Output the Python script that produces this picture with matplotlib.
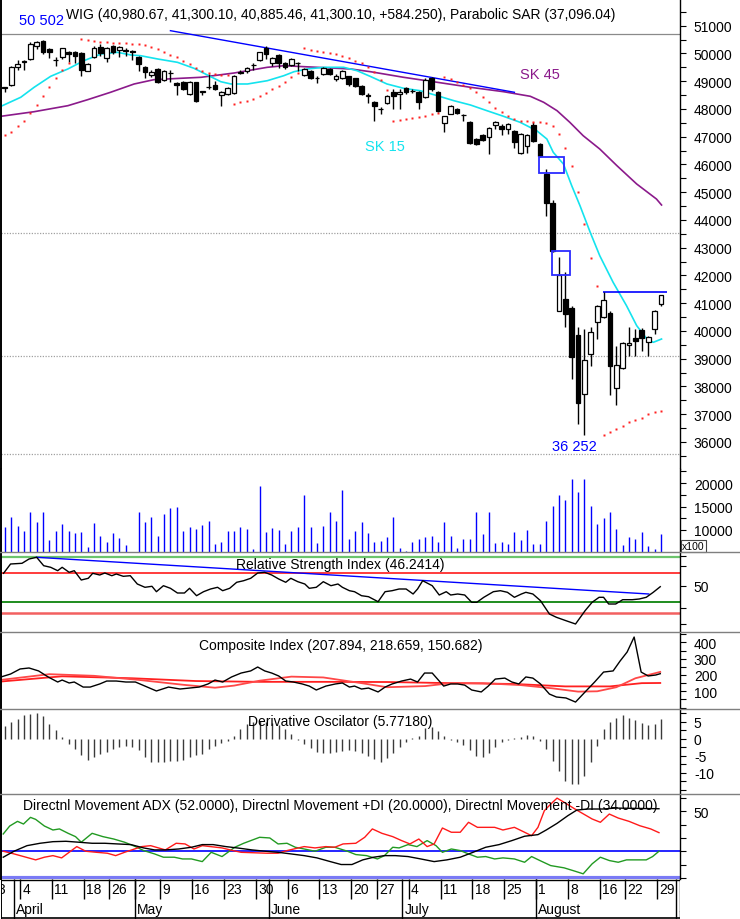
import matplotlib
matplotlib.use("Agg")
import matplotlib.pyplot as plt
from matplotlib.lines import Line2D
from matplotlib.patches import Rectangle
from matplotlib.ticker import FixedLocator, MultipleLocator
import numpy as np

plt.rcParams.update({
    "font.family": ["Liberation Sans", "DejaVu Sans"],
    "font.size": 10,
    "axes.unicode_minus": False,
})

# ---- data ----
opens = [48790, 48863, 49500, 49700, 49800, 50280, 50460, 50160, 49770, 49860,
         50040, 50040, 50015, 49380, 49860, 50240, 49840, 50280, 50130, 50090,
         50090, 49860, 49500, 49220, 49440, 49040, 49300, 48940, 48960, 48538,
         48960, 48610, 48790, 48860, 48502, 48538, 48574, 49310, 49378, 49575,
         49775, 50185, 49655, 49944, 49655, 49583, 49650, 49223, 49378, 49100,
         49260, 49440, 49080, 49104, 49176, 49104, 48840, 48480, 48261, 47990,
         48214, 48600, 48538, 48743, 48640, 48600, 48420, 49104, 48600, 47493,
         47818, 47998, 47780, 47518, 46916, 47060, 46977, 47420, 47400, 47277,
         47216, 46412, 46653, 47420, 46736, 45655, 44610, 40728, 41150, 40815,
         39853, 37726, 39168, 40310, 40490, 40646, 37932, 38653, 39492, 39733,
         40044, 39611, 40069, 40980.67]
highs = [48800, 49560, 49775, 49775, 50400, 50460, 50502, 50200, 49880, 50200,
         50100, 50080, 50040, 49640, 50260, 50340, 50220, 50320, 50260, 50200,
         50120, 49900, 49540, 49400, 49460, 49400, 49400, 48960, 48990, 49000,
         48980, 48660, 49259, 49000, 48640, 48780, 49230, 49400, 49500, 49640,
         50060, 50270, 49860, 49980, 49700, 49840, 49700, 49460, 49400, 49180,
         49500, 49460, 49260, 49420, 49200, 49120, 48860, 48560, 48300, 48080,
         48500, 48720, 48720, 48800, 48720, 48640, 49100, 49150, 48640, 47760,
         48150, 48030, 47830, 47560, 46950, 47100, 47340, 47560, 47440, 47480,
         47240, 47120, 47100, 47530, 46790, 45835, 44700, 42664, 42123, 40900,
         40141, 40069, 40141, 40950, 41391, 40700, 39445, 39600, 40141, 40069,
         40100, 39800, 40760, 41300.10]
lows = [48610, 48830, 49414, 49400, 49760, 50160, 49980, 49840, 49560, 49800,
        49680, 49650, 49200, 49350, 49820, 49900, 49700, 49980, 49860, 49900,
        49760, 49380, 49100, 49140, 48940, 49000, 48960, 48520, 48700, 48500,
        48260, 48500, 48720, 48690, 48100, 48500, 48540, 49260, 49300, 49400,
        49740, 49800, 49560, 49465, 49430, 49560, 49378, 49200, 49080, 48950,
        49240, 49240, 49020, 49080, 48840, 48800, 48500, 48200, 47576, 47817,
        48180, 48000, 48000, 48540, 48560, 47990, 48400, 48650, 47900, 47169,
        47800, 47820, 47560, 46740, 46700, 46850, 46376, 47280, 47050, 47100,
        46582, 46380, 46400, 46820, 46280, 44141, 42850, 40700, 40141, 38267,
        36645, 36252, 38747, 39708, 40450, 37690, 37330, 38620, 39107, 39107,
        39287, 39107, 39889, 40885.46]
closes = [48770, 49522, 49620, 49720, 50340, 50400, 50040, 50040, 49750, 50185,
          49980, 49900, 49414, 49620, 50185, 50000, 50185, 50040, 50220, 50110,
          50040, 49620, 49320, 49340, 48960, 49380, 49280, 48860, 48718, 48982,
          48297, 48630, 48780, 48720, 48620, 48743, 49198, 49330, 49465, 49590,
          50040, 49980, 49825, 49655, 49500, 49800, 49660, 49440, 49104, 49110,
          49465, 49260, 49176, 49378, 48900, 48840, 48538, 48500, 48095, 48000,
          48478, 48478, 48600, 48600, 48660, 48239, 49053, 48718, 47935, 47734,
          48117, 47853, 47790, 46772, 46736, 46880, 47302, 47518, 47277, 47457,
          46800, 47097, 47060, 46855, 46315, 44610, 42890, 42015, 40609, 39060,
          37402, 38962, 39950, 40887, 41125, 38725, 38771, 39564, 39564, 39647,
          39733, 39770, 40728, 41300.10]

sar = [47060, 47180, 47396, 47576, 47854, 48142, 48455, 48780, 49104, 49414,
       49645, np.nan, 50520, 50480, 50440, 50420, 50400, 50376, 50370, 50365,
       50350, 50330, 50300, 50220, 50160, 50063, 49960, 49860, 49738, 49620,
       49480, 49380, 49300, 49270, 49240, 49220, 48178, 48261, 48297, 48358,
       48455, 48574, 48718, 48838, 48982, 49140, 49280, 50185, 50135, 50099,
       50063, 50015, 49980, 49897, 49825, 49738, 49655, 49500, 49320, 49040,
       48700, 47576, 47600, 47625, 47661, 47698, 47758, 47817, 47870, 49150,
       49090, 48980, 48870, 48744, 48600, 48420, 48250, 48050, 47900, 47760,
       47650, 47560, 47550, 47545, 47530, 47480, 47380, 47097, 46581, 45932,
       45017, 43853, 42616, 41629, 36252, 36345, 36466, 36586, 36706, 36789,
       36875, 36994, 37066, 37096.04]

sma15_x = [-0.6, 2.5, 4.6, 7.2, 9.9, 12.4, 15.1, 17.7, 19.8, 21.3,
           24.0, 27.1, 29.7, 31.8, 33.9, 35.5, 38.1, 41.2, 43.8, 45.4,
           47.5, 50.1, 53.2, 55.3, 57.4, 60.0, 62.6, 65.2, 67.9, 70.5,
           73.1, 75.7, 78.3, 80.9, 83.5, 85.1, 86.1, 87.7, 89.0, 90.3,
           91.9, 93.4, 95.5, 97.6, 99.2, 100.8, 101.8, 103.1]
sma15_y = [48095, 48420, 48780, 49176, 49440, 49738, 49980, 50040, 49944, 49919,
           49800, 49680, 49464, 49223, 48982, 48899, 48899, 49017, 49198, 49342,
           49440, 49500, 49500, 49378, 49170, 48899, 48744, 48657, 48477, 48297,
           48142, 47936, 47734, 47518, 47216, 46916, 46437, 46015, 45233, 44512,
           43554, 42711, 41751, 40910, 40190, 39708, 39588, 39708]

sma45_x = [-0.6, 4.6, 9.9, 13.0, 16.6, 20.3, 23.4, 27.6, 30.8, 36.0,
           41.2, 43.8, 49.0, 54.3, 57.4, 62.6, 67.9, 73.1, 78.3, 82.5,
           84.6, 86.7, 88.7, 90.8, 93.4, 96.1, 99.2, 102.3, 103.1]
sma45_y = [47735, 47900, 48117, 48333, 48600, 48899, 49054, 49104, 49140, 49295,
           49500, 49558, 49500, 49440, 49342, 49140, 48960, 48780, 48621, 48455,
           48239, 47936, 47518, 47035, 46556, 45954, 45295, 44754, 44538]

trend_x = [26.0, 80.0]
trend_y = [50820, 48600]
gap_boxes = [(83.9, 87.8, 45690, 46280), (85.9, 88.7, 42026, 42869)]
resist_x = [93.9, 103.9]
resist_y = 41391
fib_levels = [43530, 39110, 35565]
top_level = 50700

volume = [10575, 12700, 10790, 9850, 13770, 11770, 13770, 7870, 9850, 11280,
          9850, 9360, 9640, 6440, 11490, 8790, 7380, 9360, 8300, 6800,
          5000, 13770, 11770, 12700, 8790, 13410, 14620, 14830, 9850, 10575,
          10210, 11070, 11980, 7020, 7380, 9850, 9850, 10575, 10210, 5950,
          19440, 9640, 10360, 10070, 7020, 9850, 10575, 17450, 10575, 7230,
          10790, 13770, 11980, 18580, 8080, 9850, 11770, 9360, 7510, 7720,
          8450, 12700, 6100, 5590, 7380, 8080, 8450, 8790, 7510, 11770,
          8790, 6100, 8080, 8080, 13770, 9150, 13770, 7230, 7380, 7020,
          9510, 7870, 10070, 7020, 7020, 11980, 15180, 17450, 16450, 20860,
          18160, 20860, 15180, 11280, 12490, 13900, 10210, 6800, 8450, 8080,
          9510, 6660, 5950, 9080]

rsi_x = [-0.2, 0.9, 2.7, 3.8, 5.0, 6.1, 7.2, 8.3, 9.0, 10.1,
         10.9, 12.0, 13.1, 13.8, 14.9, 15.7, 16.8, 17.5, 18.6, 19.7,
         20.8, 22.0, 23.1, 23.8, 24.9, 26.0, 27.1, 28.2, 29.0, 30.1,
         31.2, 32.3, 33.4, 34.2, 35.3, 36.4, 37.5, 38.6, 39.7, 40.8,
         41.9, 43.0, 44.1, 44.9, 46.0, 47.1, 47.8, 48.9, 50.0, 51.2,
         52.3, 53.0, 54.1, 54.9, 56.0, 57.1, 58.6, 59.7, 60.8, 61.9,
         63.0, 64.1, 64.8, 65.6, 67.1, 68.2, 69.3, 70.0, 71.1, 72.2,
         73.3, 74.1, 75.2, 76.7, 77.8, 78.9, 80.0, 81.1, 81.8, 82.9,
         84.1, 85.5, 86.6, 88.1, 89.6, 91.1, 92.2, 93.3, 94.0, 94.8,
         95.9, 97.0, 98.5, 99.6, 100.7, 101.8, 102.9]
rsi_y = [62.7, 72, 72.7, 77, 78.7, 70.3, 68.7, 65.3, 68.7, 63.7,
         65.3, 56, 57.7, 62.7, 61, 63, 60.3, 62, 59.7, 60.3,
         52, 48.7, 49.7, 44.3, 50.3, 47.7, 43, 43, 47.7, 40.3,
         44.3, 47, 48.7, 45.3, 47.7, 53.7, 55.3, 57.7, 63, 63.7,
         61, 57, 53.7, 57.7, 54.3, 52, 47.7, 48.7, 54.3, 50.3,
         52, 48.7, 45.3, 44.3, 40.3, 39.3, 34.3, 44.3, 45.3, 47,
         47, 42, 47, 55.3, 50.3, 41, 44.3, 41, 42, 41,
         33.7, 33.7, 38.7, 44.3, 45.3, 43.7, 38.7, 42, 43.7, 42,
         35.3, 22, 18.7, 15.3, 12, 25.3, 33.7, 38.7, 38.7, 32,
         32, 36.3, 36.3, 37, 38.7, 43.7, 49.3]
rsi_green = [79, 34]
rsi_red = [63, 23]
rsi_trend_x = [5.0, 101.1]
rsi_trend_y = [78.7, 42]

comp_x = [-0.6, 0.9, 2.4, 3.8, 5.3, 6.8, 8.3, 9.0, 10.1, 10.9,
          12.3, 13.4, 14.9, 16.0, 17.5, 19.0, 20.5, 22.0, 23.8, 25.7,
          27.5, 29.0, 30.5, 31.9, 33.0, 34.2, 35.6, 37.1, 38.6, 39.7,
          40.8, 41.9, 43.0, 44.1, 45.3, 46.7, 47.8, 48.9, 50.4, 51.9,
          53.0, 54.1, 54.9, 56.0, 57.1, 58.6, 59.7, 60.8, 62.3, 63.7,
          64.8, 65.9, 67.1, 68.2, 68.9, 70.0, 71.1, 72.2, 73.3, 74.8,
          75.9, 77.0, 78.5, 79.6, 80.7, 81.8, 82.9, 84.1, 85.5, 86.6,
          88.1, 89.6, 91.1, 92.6, 94.0, 95.5, 96.6, 97.7, 98.8, 99.9,
          101.0, 102.2, 102.9]
comp_y = [188, 206, 237, 243, 225, 188, 157, 169, 151, 157,
          126, 126, 145, 163, 163, 157, 157, 132, 102, 126,
          114, 120, 126, 145, 169, 157, 188, 212, 225, 249,
          225, 212, 194, 163, 157, 145, 132, 108, 132, 145,
          151, 126, 132, 114, 120, 96, 126, 145, 163, 175,
          157, 212, 212, 163, 132, 145, 145, 138, 108, 96,
          132, 175, 181, 157, 145, 188, 181, 145, 83, 65,
          59, 34, 96, 157, 218, 225, 286, 341, 433, 218,
          194, 200, 208]
comp_fast_x = [-0.6, 7, 14, 21, 28, 33, 36, 40, 45, 50, 56, 60, 66, 70, 75,
               81, 86, 90, 93, 96, 99, 102.9]
comp_fast_y = [170, 205, 195, 170, 140, 122, 135, 165, 190, 185, 150, 125, 132,
               150, 150, 138, 118, 98, 100, 125, 180, 219]
comp_slow_x = [-0.6, 9, 20, 30, 40, 50, 60, 70, 80, 88, 95, 100, 102.9]
comp_slow_y = [160, 192, 180, 163, 158, 158, 157, 150, 145, 130, 130, 150, 151]

deriv = [3.8, 4.9, 5.9, 6.9, 7.4, 7.6, 6.7, 4.4, 2.5, 0.5,
         -1.5, -2.9, -4.7, -6.1, -5.4, -4.4, -3.9, -2.9, -2.5, -2.2,
         -2.5, -3.4, -5.4, -6.7, -6.9, -6.7, -6.4, -6.4, -6.2, -5.4,
         -4.7, -4.4, -3.1, -2.2, -1.2, -0.5,
         1.0, 2.9, 4.4, 5.0, 5.2, 5.0, 4.8, 4.0, 3.0, 1.5,
         -0.3, -1.5, -2.8, -3.9, -4.0, -4.0, -3.7, -3.5, -3.4, -3.6,
         -4.0, -4.9, -5.9, -6.9, -5.5, -4.2, -2.5, -0.9, 0.3, 1.0,
         3.2, 3.5, 2.4, 0.9, -0.4, -1.0, -1.9, -3.4, -4.9, -5.2,
         -4.0, -2.4, -1.0, -0.3, 0.4, 0.6, 1.2, 0.9, -0.6, -2.9,
         -6.4, -9.4, -12.3, -13.3, -13.3, -10.8, -6.9, -2.2, 2.9, 5.0,
         6.3, 6.9, 6.3, 5.6, 4.8, 4.2, 4.4, 5.77]

pdi_x = [-0.25, 0.77, 1.99, 2.93, 4.03, 4.84, 6.21, 7.55, 8.57, 9.94,
         11.1, 12.0, 13.7, 15.4, 17.1, 18.8, 20.5, 21.8, 23.5, 24.9,
         26.6, 27.9, 29.3, 31.0, 32.4, 34.1, 36.1, 37.5, 40.0, 41.6,
         42.9, 44.3, 45.6, 47.0, 48.7, 50.4, 51.8, 53.8, 55.1, 56.8,
         58.5, 59.6, 60.9, 61.9, 63.3, 64.7, 66.3, 67.7, 68.7, 70.1,
         71.5, 72.8, 74.2, 75.5, 76.9, 78.2, 80.0, 81.6, 82.7, 84.0,
         85.7, 87.8, 89.5, 90.8, 92.2, 93.5, 94.9, 96.3, 97.6, 99.0,
         100.7, 101.7, 102.7]
pdi_y = [33, 39, 42.5, 40.5, 45.5, 44, 39, 36, 36.8, 33.5,
         31, 26.8, 33.5, 31, 29.2, 26.8, 23.5, 20.5, 18, 15.5,
         15.5, 14.2, 14.2, 12.2, 19.2, 16, 23, 26, 30.5, 30,
         25.5, 26, 23, 21.7, 20, 23, 23, 20, 17.5, 16.7,
         14.2, 16.7, 23, 22.5, 25, 23.5, 28, 24.2, 19.2, 21.7,
         20.5, 18, 15.5, 16, 14.2, 15, 14.2, 11.7, 16, 13,
         9.2, 7.5, 5, 3, 10.5, 15.5, 13, 11.7, 13.5, 13.5,
         13.5, 16, 20]
mdi_x = [-0.25, 1.44, 4.84, 6.21, 7.55, 8.92, 11.3, 12.7, 14.4, 16.1,
         17.4, 18.8, 21.5, 22.9, 25.2, 26.9, 28.3, 29.7, 31.0, 34.1,
         35.8, 37.1, 41.2, 42.9, 44.3, 47.0, 48.7, 50.4, 51.8, 53.1,
         55.1, 56.5, 57.7, 59.2, 60.9, 62.3, 63.6, 65.0, 66.3, 67.4,
         68.7, 70.1, 71.5, 72.8, 74.2, 75.5, 76.9, 78.2, 80.0, 81.3,
         82.7, 83.7, 84.7, 85.7, 86.7, 88.1, 89.5, 92.2, 93.5, 94.9,
         96.3, 98.0, 99.7, 101.4, 102.7]
mdi_y = [20, 18, 13.5, 15.5, 16.7, 15, 23.5, 20, 19.2, 18.5,
         16.7, 19.2, 23.5, 24.2, 21, 26, 25.5, 21.7, 24.2, 22.5,
         20.5, 19.2, 18.5, 18.5, 20.5, 23.5, 22.5, 23.5, 23, 25.5,
         26, 30.5, 36.8, 33.5, 31, 28, 25.5, 29.2, 23.5, 25.5,
         37.5, 34.3, 34.3, 41.8, 38, 38, 38, 36, 38, 35,
         31.7, 38, 50.5, 55.5, 60, 56, 51.8, 44.3, 41.8, 48,
         45, 42.5, 39.2, 36.8, 34]
adx_x = [-0.25, 1.44, 3.48, 5.52, 7.55, 9.59, 11.6, 13.7, 15.7, 17.7,
         19.8, 21.8, 23.5, 25.2, 27.3, 29.3, 31.0, 32.7, 34.7, 36.8,
         38.8, 40.9, 42.9, 44.9, 47.0, 49.0, 51.1, 52.8, 54.5, 56.2,
         57.9, 59.6, 61.3, 63.3, 65.3, 67.4, 69.4, 71.5, 73.5, 75.5,
         77.6, 79.6, 81.6, 83.7, 85.0, 86.7, 88.4, 89.8, 91.5, 93.9,
         95.9, 102.7]
adx_y = [15.5, 20, 24.2, 26, 27.2, 27.5, 26.8, 26, 26, 25.5,
         25, 22.5, 21, 21, 21.7, 23, 25, 25, 23.5, 22.3,
         21, 20, 19.2, 18, 16.7, 15, 12.2, 10, 10, 13.5,
         15.5, 16.7, 16.7, 16, 14.2, 12.2, 13.5, 15.5, 19.2, 23,
         25, 28, 31.3, 32.5, 36, 41, 46.8, 51, 51.8, 51.8,
         52.5, 52]
adx_ref = 20

week_days = [-2, 3, 8, 13, 17, 21, 25, 30, 35, 40, 45, 50, 55, 59, 64, 69, 74,
             79, 84, 89, 94, 98, 103]
week_labels = ["28", "4", "11", "18", "26", "2", "9", "16", "23", "30", "6", "13",
               "20", "27", "4", "11", "18", "25", "1", "8", "16", "22", "29"]
month_days = [2, 21, 42, 63, 84, 106]
month_labels = ["April", "May", "June", "July", "August", "S"]

title = ("WIG (40,980.67, 41,300.10, 40,885.46, 41,300.10, +584.250), "
         "Parabolic SAR (37,096.04)")

# ---- layout ----
W, H = 740, 920
L, PW = 1 / W, 679 / W
XMIN, XMAX = -0.6, 106.0
BLUE = "#0000FF"
CYAN = "#14E3EE"
PURPLE = "#8B1A8B"

fig = plt.figure(figsize=(W / 100, H / 100), dpi=100)


def panel(top, bottom):
    ax = fig.add_axes([L, 1 - bottom / H, PW, (bottom - top) / H])
    ax.set_xlim(XMIN, XMAX)
    for s in ("top", "bottom"):
        ax.spines[s].set_visible(False)
    ax.spines["left"].set_linewidth(1.4)
    ax.spines["right"].set_linewidth(1.0)
    ax.tick_params(axis="x", bottom=False, labelbottom=False)
    ax.yaxis.tick_right()
    ax.tick_params(axis="y", which="both", direction="out", length=4,
                   width=0.8, pad=6, labelsize=10)
    ax.tick_params(axis="y", which="minor", length=4)
    return ax


idx = np.arange(len(opens))
o, h, l, c = (np.array(v, dtype=float) for v in (opens, highs, lows, closes))

# price
ax_p = panel(0, 470)
ax_p.set_ylim(35023, 51962)
ax_p.yaxis.set_minor_locator(MultipleLocator(500))
ax_p.set_yticks(np.arange(36000, 51001, 1000))
ax_p.yaxis.set_major_formatter(lambda v, p: f"{v:.0f}")
ax_p.axhline(top_level, color="#8A8A8A", lw=0.9)
for v in fib_levels:
    ax_p.axhline(v, color="#A0A0A0", lw=0.9, ls=(0, (1, 1.2)))
ax_p.plot(sma45_x, sma45_y, color=PURPLE, lw=1.2, zorder=2)
ax_p.plot(sma15_x, sma15_y, color=CYAN, lw=1.2, zorder=2)
ax_p.plot(trend_x, trend_y, color=BLUE, lw=1.0, zorder=2)
ax_p.hlines(resist_y, *resist_x, color=BLUE, lw=1.2, zorder=2)
for x0, x1, y0, y1 in gap_boxes:
    ax_p.add_patch(Rectangle((x0, y0), x1 - x0, y1 - y0, fill=False,
                             ec="#2B2BFF", lw=1.3, zorder=5))
ax_p.vlines(idx, l, h, color="black", lw=1.0, zorder=3)
up = c >= o
ax_p.bar(idx, np.abs(c - o), bottom=np.minimum(o, c), width=0.74,
         color=np.where(up, "white", "black"), edgecolor="black",
         linewidth=0.9, zorder=4)
ax_p.plot(idx, sar, ls="none", marker="s", ms=1.5, color="#FF2020",
          mec="none", zorder=3)
imax, imin = int(np.argmax(h)), int(np.argmin(l))
ax_p.text(imax - 0.3, h[imax] + 700, f"{h[imax]:,.0f}".replace(",", " "),
          color=BLUE, ha="center", va="center", fontsize=10.5)
ax_p.text(imin - 1.6, l[imin] - 400, f"{l[imin]:,.0f}".replace(",", " "),
          color=BLUE, ha="center", va="center", fontsize=10.5)
ax_p.text(84, 49260, "SK 45", color=PURPLE, ha="center", va="center",
          fontsize=10.5)
ax_p.text(59.6, 46664, "SK 15", color=CYAN, ha="center", va="center",
          fontsize=10.5)
ax_p.text(0.5, 1 - 15 / 470, title, transform=ax_p.transAxes, ha="center",
          va="center", fontsize=10)

# volume
ax_v = panel(470, 553)
ax_v.set_ylim(5314, 22990)
ax_v.vlines(idx, 0, volume, color=BLUE, lw=1.0)
ax_v.set_yticks([10000, 15000, 20000])
ax_v.yaxis.set_minor_locator(MultipleLocator(2500))
ax_v.text(1.003, 0.075, "x100", transform=ax_v.transAxes, fontsize=7.5,
          ha="left", va="center",
          bbox=dict(boxstyle="square,pad=0.12", fc="white", ec="#444444",
                    lw=0.8))

# RSI
ax_r = panel(553, 633)
ax_r.set_ylim(4, 84)
ax_r.axhline(rsi_green[0], color="#6CC46C", lw=1.6)
ax_r.axhline(rsi_green[1], color="#1E8C1E", lw=1.4)
ax_r.axhline(rsi_red[0], color="#FF3B3B", lw=1.4)
ax_r.axhline(rsi_red[1], color="#F26060", lw=1.8)
ax_r.plot(rsi_trend_x, rsi_trend_y, color=BLUE, lw=1.0)
ax_r.plot(rsi_x, rsi_y, color="black", lw=1.0)
ax_r.set_yticks([50])
ax_r.yaxis.set_minor_locator(FixedLocator([12, 28, 70, 80]))
ax_r.text(0.5, 0.85, "Relative Strength Index (46.2414)",
          transform=ax_r.transAxes, ha="center", va="center", fontsize=10)

# Composite Index
ax_c = panel(633, 710)
ax_c.set_ylim(-8.6, 463.8)
ax_c.plot(comp_slow_x, comp_slow_y, color="#FF2020", lw=1.3)
ax_c.plot(comp_fast_x, comp_fast_y, color="#FF4848", lw=1.3)
ax_c.plot(comp_x, comp_y, color="black", lw=1.0)
ax_c.set_yticks([100, 200, 300, 400])
ax_c.yaxis.set_minor_locator(MultipleLocator(50))
ax_c.text(0.5, 0.83, "Composite Index (207.894, 218.659, 150.682)",
          transform=ax_c.transAxes, ha="center", va="center", fontsize=10)

# Derivative Oscillator
ax_d = panel(710, 795)
ax_d.set_ylim(-16.2, 8.8)
ax_d.vlines(idx, 0, deriv, color="#3A3A3A", lw=1.0)
ax_d.set_yticks([-10, -5, 0, 5])
ax_d.yaxis.set_minor_locator(MultipleLocator(2.5))
ax_d.text(0.5, 0.86, "Derivative Oscilator (5.77180)",
          transform=ax_d.transAxes, ha="center", va="center", fontsize=10)

# ADX
ax_a = panel(795, 880)
ax_a.set_ylim(-0.9, 63.1)
ax_a.text(0.5, 0.87,
          "Directnl Movement ADX (52.0000), Directnl Movement +DI (20.0000), "
          "Directnl Movement -DI (34.0000)",
          transform=ax_a.transAxes, ha="center", va="center", fontsize=10)
ax_a.axhline(0, color="#7A7AF5", lw=3)
ax_a.axhline(adx_ref, color=BLUE, lw=1.2)
ax_a.plot(pdi_x, pdi_y, color="#229A22", lw=1.0)
ax_a.plot(mdi_x, mdi_y, color="#FF1A1A", lw=1.0)
ax_a.plot(adx_x, adx_y, color="black", lw=1.0)
ax_a.set_yticks([50])
ax_a.yaxis.set_minor_locator(FixedLocator([0, 10, 20, 30, 40, 60]))

# date band
ax_x = fig.add_axes([L, 0, PW, 40 / H])
ax_x.set_xlim(XMIN, XMAX)
ax_x.set_ylim(1, 0)
ax_x.axis("off")
wk = np.array(week_days) - 0.6
mo = np.array(month_days) - 0.6
ax_x.vlines(wk, 0, 0.5, color="black", lw=1.0)
ax_x.vlines(mo, 0, 1, color="black", lw=1.0)
for x, t in zip(wk, week_labels):
    ax_x.text(x + 0.35, 0.26, t, ha="left", va="center", fontsize=10,
              clip_on=True)
for x, t in zip(mo, month_labels):
    ax_x.text(x + 0.35, 0.74, t, ha="left", va="center", fontsize=10,
              clip_on=True)
ax_x.axhline(0.02, color="black", lw=1.0)
ax_x.axhline(0.98, color="black", lw=1.2)
ax_x.axvline(XMIN, color="black", lw=1.4)
ax_x.axvline(XMAX, color="black", lw=1.0)

# panel separators spanning the full width
for ypx in (553, 633, 710, 795):
    fig.add_artist(Line2D([0, 1], [1 - ypx / H] * 2, transform=fig.transFigure,
                          color="#7F7F7F", lw=1.0))

fig.savefig("out.png", dpi=100)
